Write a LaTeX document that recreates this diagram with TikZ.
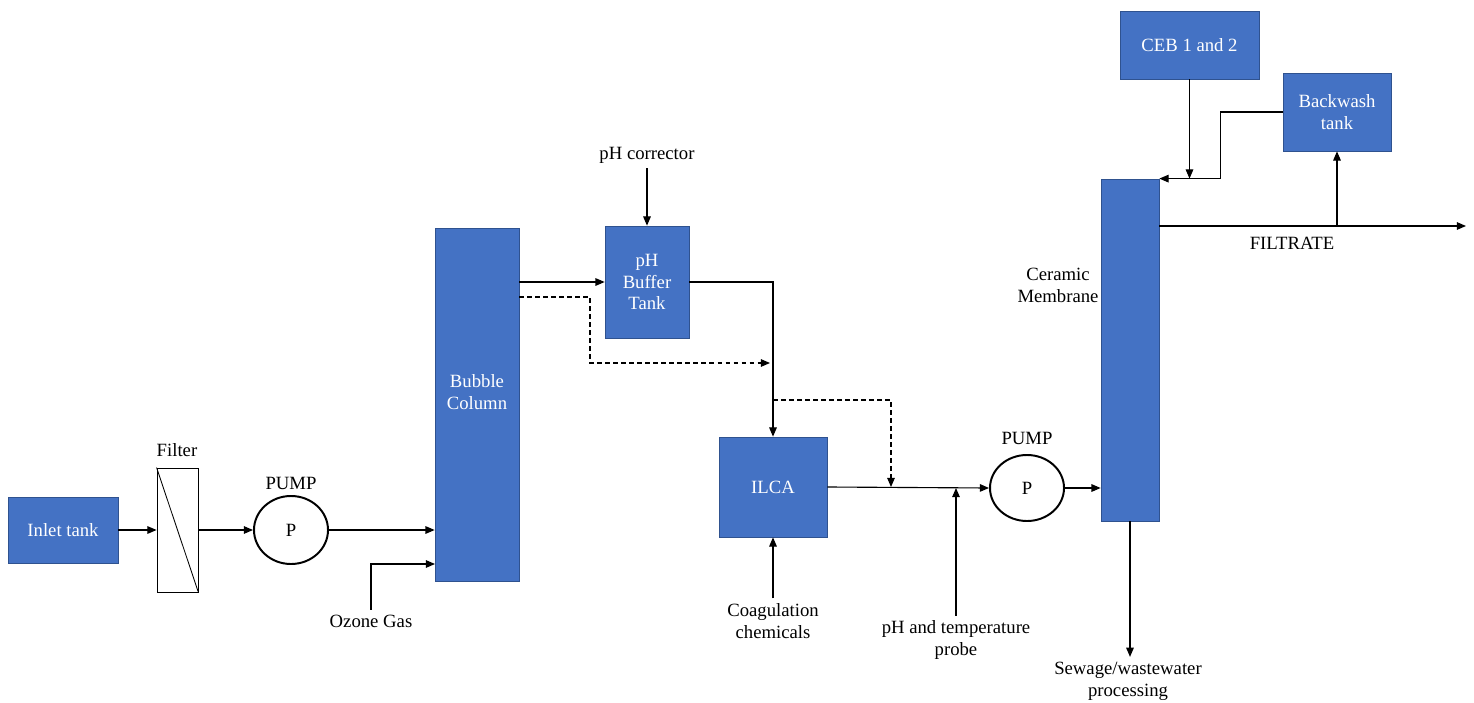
\documentclass[tikz,border=0pt]{standalone}
\usepackage{fontspec}
\setmainfont{Liberation Serif}
\usepackage{tikz}
\usetikzlibrary{arrows.meta}
\usetikzlibrary{shapes.geometric}
\definecolor{tankblue}{HTML}{4472C4}
\definecolor{tankedge}{HTML}{2F528F}

\begin{document}
\begin{tikzpicture}[x=0.025cm,y=-0.025cm,
  every node/.style={font=\fontsize{13.3}{15.6}\selectfont,align=center},
  unit/.style={draw=tankedge,line width=0.5pt,fill=tankblue,text=white,inner sep=0pt},
  pumpbody/.style={ellipse,draw,line width=1.4pt,minimum width=1.85cm,minimum height=1.7cm,inner sep=0pt},
  flow/.style={-{Triangle[length=2.3mm,width=1.9mm]},line width=0.8pt},
  bypass/.style={flow,dash pattern=on 3.5pt off 2.2pt}]
\useasboundingbox (0,0) rectangle (1474,703);
% units
\node[unit,minimum width=2.75cm,minimum height=1.65cm] (inlet) at (63,530) {Inlet tank};
\node[draw,line width=0.6pt,minimum width=1.025cm,minimum height=3.1cm] (filter) at (177.5,530) {}; %filter
\draw[line width=0.6pt] (filter.north west) -- (filter.south east);
\node (filterlbl) at (177,450) {Filter};
\node[pumpbody] (pump1) at (291,530) {P};
\node (pump1lbl) at (291,483) {PUMP};
\node[unit,minimum width=2.1cm,minimum height=8.825cm] (bubble) at (477,404.5) {};
\node[text=white] (bubblelbl) at (477,392) {Bubble\\Column};
\node (ozonelbl) at (371,621) {Ozone Gas};
\node (phcorr) at (647,155) {pH corrector};
\node[unit,minimum width=2.1cm,minimum height=2.8cm] (buffer) at (647,282) {pH\\Buffer\\Tank};
\node[unit,minimum width=2.7cm,minimum height=2.5cm] (ilca) at (773,487) {ILCA};
\node (coag) at (773,621) {Coagulation\\chemicals};
\node (probe) at (956,640) {pH and temperature\\probe};
\node[pumpbody,minimum height=1.65cm] (pump2) at (1027,488) {P};
\node (pump2lbl) at (1027,438) {PUMP};
\node[unit,minimum width=1.45cm,minimum height=8.55cm] (membrane) at (1130,350) {};
\node (membranelbl) at (1058,285) {Ceramic\\Membrane};
\node (sewage) at (1128,681) {Sewage/wastewater\\processing};
\node[unit,minimum width=3.475cm,minimum height=1.7cm] (ceb) at (1189.5,45) {CEB 1 and 2};
\node[unit,minimum width=2.7cm,minimum height=1.95cm] (backwash) at (1337,112) {Backwash\\tank};
\node (filtrate) at (1292,243) {FILTRATE};
% joints
\coordinate (ozonein) at (435,564);
\coordinate (split1) at (519,297);
\coordinate (split1turn) at (590,363);
\coordinate (split1end) at (770,363);
\coordinate (split2) at (773,400);
\coordinate (split2end) at (891,487);
\coordinate (filtin) at (1159,226);
\coordinate (filtout) at (1466,226);
% flows
\draw[flow] (inlet) -- (filter);
\draw[flow] (filter) -- (pump1);
\draw[flow] (pump1) -- (pump1 -| bubble.west);
\draw[flow] (ozonelbl.north) |- (ozonein);
\draw[flow] (phcorr) -- (buffer);
\draw[flow] (buffer.west -| bubble.east) -- (buffer.west);
\draw[bypass] (split1) -| (split1turn) -- (split1end); %dashed line
\draw[flow] (buffer.east) -| (ilca.north);
\draw[bypass] (split2) -| (split2end);
\draw[flow] (ilca.east) -- (pump2.west);
\draw[flow] (coag) -- (ilca);
\draw[flow] (probe.north) -- (probe.north |- pump2.west);
\draw[flow] (pump2) -- (pump2 -| membrane.west);
\draw[flow] (membrane.south) -- (membrane.south |- sewage.north);
\draw[flow] (ceb) -- (ceb |- membrane.north);
\draw[flow] (backwash.west) -- ++(-62,0) |- (membrane.north east); %backwash return
\draw[flow] (filtin) -- (filtout);
\draw[flow] (backwash |- filtin) -- (backwash);
\end{tikzpicture}
\end{document}
